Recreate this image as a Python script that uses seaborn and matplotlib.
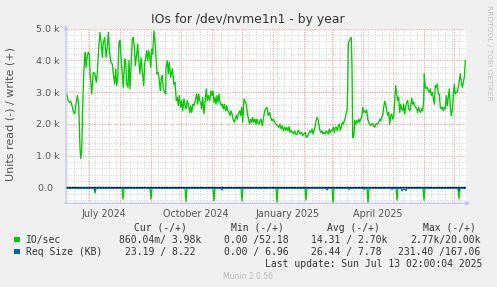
import numpy as np
import pandas as pd
import matplotlib
matplotlib.use("Agg")
import matplotlib.pyplot as plt
import seaborn as sns

# ---------------- data ----------------
start = pd.Timestamp("2024-06-08 02:00")
end = pd.Timestamp("2025-07-13 02:00")

# IO/sec write (+), day offsets from start
write_days = [
    0.7, 2.0, 3.3, 4.7, 6.0, 7.3, 8.7, 10.0, 11.3, 12.7, 13.3, 14.0, 14.7, 15.7, 16.7, 17.7, 18.7, 19.3, 20.0, 20.7,
    21.3, 22.3, 23.3, 24.0, 25.7, 27.3, 29.0, 30.3, 31.3, 32.7, 34.0, 35.3, 36.3, 37.3, 38.7, 40.0, 41.3, 42.3, 43.7, 45.0,
    46.3, 47.3, 48.7, 49.7, 50.7, 51.7, 53.0, 54.0, 55.0, 56.0, 57.3, 58.7, 59.7, 60.7, 62.0, 63.0, 64.0, 65.0, 66.3, 67.3,
    68.3, 69.3, 70.7, 71.7, 72.7, 74.0, 75.0, 76.3, 77.7, 78.7, 79.7, 80.7, 81.7, 82.7, 83.7, 84.7, 85.7, 86.7, 88.0, 89.0,
    90.0, 91.0, 92.0, 93.0, 94.3, 95.3, 96.3, 97.3, 98.7, 99.7,
    100.0, 101.3, 102.3, 103.3, 104.7, 106.3, 108.0, 109.0, 110.3, 111.3, 112.3, 113.3, 114.7, 115.7, 116.7, 118.0, 119.0,
    120.0, 121.3, 122.3, 123.7, 124.7, 125.7, 127.0, 128.0, 129.3, 130.7, 131.7, 132.7, 133.7, 134.7, 135.7, 136.7, 138.0,
    139.0, 140.3, 141.3, 142.3, 143.7, 145.0, 146.0, 147.0, 148.0, 149.0, 150.0, 151.0, 152.0, 153.0, 154.0, 155.3, 156.3,
    157.3, 158.3, 159.7, 160.7, 161.7, 163.0, 164.0, 165.0, 166.0, 167.0, 168.3, 169.3, 170.3, 171.3, 172.3, 173.7, 174.7,
    175.7, 176.7, 178.0, 179.3, 180.3, 181.3, 182.7, 183.7, 184.7, 185.7, 186.7, 187.7, 189.0, 190.0, 191.0, 192.0, 193.0,
    194.0, 195.0, 196.3, 197.3, 198.7, 199.7,
    201.0, 202.3, 203.7, 204.7, 206.0, 207.3, 208.7, 210.0, 211.3, 212.7, 214.0, 215.0, 216.3, 217.3, 218.7, 219.7, 220.7,
    222.0, 223.0, 224.0, 225.3, 226.3, 227.3, 228.7, 229.7, 231.0, 232.3, 233.3, 234.3, 235.7, 236.7, 238.0, 239.3, 240.3,
    241.7, 242.7, 243.7, 245.0, 246.0, 247.0, 248.0, 249.0, 250.0, 251.0, 252.0, 253.0, 254.0, 255.0, 256.0, 257.0, 258.0,
    259.0, 260.3, 261.3, 262.3, 263.3, 264.3, 265.3, 266.3, 267.3, 268.3, 269.3, 270.3, 271.3, 272.3, 273.3, 274.3, 275.3,
    276.3, 277.3, 278.3, 279.3, 280.0, 281.0, 281.7, 282.3, 283.3, 284.3, 285.3, 286.0, 286.7, 287.3, 288.0, 288.7, 289.7,
    290.7, 291.7, 292.7, 293.7, 294.7, 295.7, 296.7, 297.7, 298.7, 299.7,
    300.7, 301.7, 302.7, 303.7, 304.7, 305.7, 306.7, 307.7, 308.7, 309.7, 310.7, 311.7, 312.7, 313.7, 314.7, 315.7, 316.7,
    317.7, 318.7, 319.7, 320.7, 321.7, 322.7, 323.7, 324.7, 325.7, 326.7, 327.7, 328.7, 329.7, 330.7, 331.7, 332.7, 333.7,
    334.7, 335.7, 336.7, 337.7, 338.7, 339.7, 340.7, 341.7, 342.7, 343.7, 344.7, 345.7, 346.7, 347.7, 348.7, 349.7, 350.7,
    351.7, 352.7, 353.7, 354.7, 355.7, 356.7, 357.7, 358.3, 359.3, 360.3, 361.3, 362.3, 363.3, 364.3, 365.3, 366.3, 367.3,
    368.3, 369.3, 370.3, 371.3, 372.3, 373.3, 374.3, 375.3, 376.3, 377.3, 378.3, 379.3, 380.3, 381.3, 382.3, 383.3, 384.3,
    385.3, 386.3, 387.3, 388.3, 389.3, 390.3, 391.3, 392.3, 393.3, 394.3, 395.3, 396.3, 397.3, 398.3, 399.3,
]
write_ios = [
    2940, 2750, 2680, 2710, 2570, 2390, 2310, 2620, 2890, 2620, 1990, 1260, 910, 1150, 2520, 3570, 4090, 4250, 3780, 3990,
    4140, 4250, 4200, 3620, 2940, 3620, 3570, 3310, 3570, 4410, 4880, 4510, 4090, 4560, 4720, 4090, 4410, 4880, 4200, 3930,
    3880, 3570, 3250, 3730, 3200, 3410, 4560, 4620, 4090, 3670, 3150, 4040, 3930, 3250, 3150, 3990, 3100, 3780, 4670, 4720,
    4410, 3830, 4200, 4510, 3990, 3570, 4090, 3670, 3200, 3880, 4090, 4300, 3990, 4300, 4140, 3780, 4350, 4200, 4930, 4620,
    4090, 3570, 3620, 3460, 3040, 3410, 3520, 3100, 2990, 2940,
    3780, 3990, 3570, 3930, 3460, 3730, 3250, 3310, 2730, 2830, 2570, 2890, 2520, 2730, 2410, 2780, 2570,
    2470, 2730, 2620, 2360, 2570, 2360, 2620, 2570, 2730, 2940, 2620, 2940, 2730, 2680, 2470, 2830, 2310,
    2680, 3100, 2730, 2890, 2730, 3040, 2890, 3040, 2680, 2830, 2620, 2890, 2680, 2940, 2680, 2570, 2620,
    2470, 2620, 2410, 2570, 2410, 2360, 2260, 2410, 2310, 2150, 2050, 2150, 2260, 2150, 2310, 2410, 2260,
    2520, 2050, 2780, 2680, 2620, 2360, 2100, 1990, 2150, 2050, 2200, 2050, 2150, 1990, 2150, 2050, 1990,
    2100, 2150, 1940, 2150, 2410, 2470,
    2520, 2260, 2360, 2200, 2100, 2150, 2050, 1990, 1940, 1890, 1990, 1840, 1940, 1780, 1890, 1800, 1890,
    1780, 1910, 1730, 1800, 1730, 1680, 1780, 1680, 1660, 1800, 1730, 1680, 1730, 1630, 1680, 1730, 1570,
    1630, 1680, 1780, 1730, 1840, 1680, 1780, 1890, 2100, 2200, 2150, 1940, 1780, 1730, 1780, 1680, 1730,
    1680, 1780, 1730, 1680, 1840, 1730, 1800, 1780, 1890, 1730, 1890, 1890, 1780, 1940, 1990, 1800, 1890,
    2050, 1990, 2100, 2200, 2310, 2410, 3040, 4510, 4620, 4670, 4720, 3780, 1570, 1570, 1680, 2100, 1990,
    2100, 2050, 2150, 2050, 2150, 2200, 2520, 2360, 2410, 2360,
    2430, 2150, 2050, 1990, 1940, 1990, 2010, 1940, 1890, 1990, 2010, 1990, 2050, 2150, 2100, 2200, 2260,
    2520, 2710, 2620, 2410, 2260, 2360, 1990, 2260, 2310, 2150, 2200, 2730, 3200, 2940, 2730, 2830, 2360,
    2620, 2470, 2410, 2620, 2310, 2520, 2680, 2730, 2470, 2410, 2520, 2810, 2620, 2680, 2570, 2520, 2470,
    2360, 2520, 2410, 2360, 2470, 2410, 2730, 3570, 3150, 3100, 3150, 3040, 2990, 3100, 2890, 2990, 2830,
    2620, 3200, 3150, 3250, 2940, 2940, 2520, 2470, 2520, 2410, 2520, 2470, 2890, 2570, 2830, 3100, 2520,
    2260, 2410, 2890, 3250, 2940, 2990, 2990, 3150, 3360, 3570, 3310, 3150, 3310, 3460, 3990,
]

# IO/sec read (-)
read_days = [0, 28, 29, 30, 56, 57, 58, 84, 85, 86, 119, 120, 121, 147, 148, 149, 175, 176, 177,
             210, 211, 212, 239, 240, 241, 266, 267, 268, 301, 302, 303, 330, 331, 332, 357, 358, 359,
             392, 393, 394, 400]
read_ios = [10, 10, 180, 10, 10, 370, 10, 10, 370, 10, 10, 450, 10, 10, 420, 10, 10, 420, 10,
            10, 480, 10, 10, 390, 10, 10, 490, 10, 10, 490, 10, 10, 400, 10, 10, 400, 10,
            10, 360, 10, 10]

# Req Size (KB)
req_read_days = [0, 28, 29, 30, 155, 156, 157, 260, 261, 262, 282, 283, 284, 297, 298, 299,
                 325, 326, 327, 335, 336, 338, 340, 341, 392, 393, 394, 400]
req_read_kb = [24, 24, 90, 24, 24, 80, 24, 24, 80, 24, 24, 60, 24, 24, 60, 24,
               24, 60, 24, 24, 100, 40, 100, 24, 24, 110, 24, 23]
req_write_days = [0, 400]
req_write_kb = [8, 8]

ytick_vals = [0, 1000, 2000, 3000, 4000, 5000]
ytick_labels = ["0.0  ", "1.0 k", "2.0 k", "3.0 k", "4.0 k", "5.0 k"]
xtick_dates = ["2024-07-16", "2024-10-16", "2025-01-16", "2025-04-16"]
xtick_labels = ["July 2024", "October 2024", "January 2025", "April 2025"]

legend_header = ["Cur (-/+)", "Min (-/+)", "Avg (-/+)", "Max (-/+)"]
legend_names = ["IO/sec", "Req Size (KB)"]
legend_rows = [["860.04m/ 3.98k", "0.00 /52.18", "14.31 / 2.70k", "2.77k/20.00k"],
               ["23.19 / 8.22", "0.00 / 6.96", "26.44 / 7.78", "231.40 /167.06"]]
legend_colors = ["#00CC00", "#0066B3"]
last_update = "Last update: Sun Jul 13 02:00:04 2025"

# ---------------- figure ----------------
W, H = 497, 287
sns.set_theme(style="white")
plt.rcParams["font.family"] = ["DejaVu Sans"]

fig = plt.figure(figsize=(W / 100, H / 100), dpi=100, facecolor="#F0F0F0")
L, R, T, B = 66, 466, 28.5, 203.3
ax = fig.add_axes([L / W, 1 - B / H, (R - L) / W, (B - T) / H])
ax.set_facecolor("white")

ymin, ymax = -500, 5000
ax.set_xlim(start, end)
ax.set_ylim(ymin, ymax)

# grid
red = "#F0A8A8"
gray = "#D8D8D8"
week_lines = pd.date_range(start, end, freq="W-SUN")
month_lines = pd.date_range("2024-06-01", end, freq="MS")
month_lines = month_lines[month_lines > start]
ax.vlines(week_lines, ymin, ymax, colors=gray, lw=0.7, linestyles=(0, (1.2, 1.2)), zorder=1)
ax.hlines(np.arange(-400, 5000, 200), start, end, colors=gray, lw=0.7, linestyles=(0, (1.2, 1.2)), zorder=1)
ax.vlines(month_lines, ymin, ymax, colors=red, lw=0.7, linestyles=(0, (1.2, 1.2)), zorder=2)
ax.hlines(np.arange(1000, 5001, 1000), start, end, colors=red, lw=0.7, linestyles=(0, (1.2, 1.2)), zorder=2)

def to_dates(days):
    return start + pd.to_timedelta(np.asarray(days, dtype=float), unit="D")

df_w = pd.DataFrame({"date": to_dates(write_days), "v": write_ios})
df_r = pd.DataFrame({"date": to_dates(read_days), "v": -np.asarray(read_ios)})
df_qr = pd.DataFrame({"date": to_dates(req_read_days), "v": -np.asarray(req_read_kb)})
df_qw = pd.DataFrame({"date": to_dates(req_write_days), "v": req_write_kb})

sns.lineplot(data=df_r, x="date", y="v", color=legend_colors[0], lw=0.95, ax=ax, estimator=None, zorder=3)
sns.lineplot(data=df_w, x="date", y="v", color=legend_colors[0], lw=0.95, ax=ax, estimator=None, zorder=3)
sns.lineplot(data=df_qr, x="date", y="v", color=legend_colors[1], lw=0.95, ax=ax, estimator=None, zorder=4)
sns.lineplot(data=df_qw, x="date", y="v", color=legend_colors[1], lw=0.95, ax=ax, estimator=None, zorder=4)
ax.axhline(0, color="black", lw=0.8, ls=(0, (1.5, 1)), zorder=5)

ax.set_xlabel("")
ax.set_ylabel("")
for s in ax.spines.values():
    s.set_visible(False)

ax.set_yticks(ytick_vals)
ax.set_yticklabels(ytick_labels)
ax.set_xticks(pd.to_datetime(xtick_dates))
ax.set_xticklabels(xtick_labels)
ax.tick_params(axis="y", length=0, pad=4.8, labelsize=6.8, labelcolor="#555555")
ax.tick_params(axis="x", length=0, pad=4.0, labelsize=6.9, labelcolor="#555555")

# axis lines with arrows
axis_col = "#C4C8F0"
ax.annotate("", xy=(1.018, 0), xytext=(-0.01, 0), xycoords="axes fraction",
            arrowprops=dict(arrowstyle="-|>", color=axis_col, lw=1.0, mutation_scale=6),
            annotation_clip=False, zorder=6)
ax.annotate("", xy=(0, 1.037), xytext=(0, -0.015), xycoords="axes fraction",
            arrowprops=dict(arrowstyle="-|>", color=axis_col, lw=1.0, mutation_scale=6),
            annotation_clip=False, zorder=6)

# texts
def px(x, y):
    return x / W, 1 - y / H

fig.text(*px(248, 23.5), "IOs for /dev/nvme1n1 - by year", ha="center", va="baseline",
         fontsize=8.9, color="#333333")
fig.text(*px(11, 114.5), "Units read (-) / write (+)", rotation=90, ha="center", va="center",
         fontsize=8.0, color="#555555")
fig.text(*px(488.5, 53), "RRDTOOL / TOBI OETIKER", rotation=270, ha="center", va="center",
         fontsize=5.4, color="#C4C4C4")

mono = dict(family="DejaVu Sans Mono", fontsize=7.05, color="#333333", va="baseline")
for x, s in zip([134.3, 230.7, 326.7, 422.7], legend_header):
    fig.text(*px(x, 231), s, ha="left", **mono)
col_x = [[119, 224, 311, 410], [125, 224, 311, 398]]
for i, (name, row) in enumerate(zip(legend_names, legend_rows)):
    base = 243 + 12 * i
    fig.patches.append(plt.Rectangle(px(14, base - 1), 5.5 / W, 5.5 / H, transform=fig.transFigure,
                                     facecolor=legend_colors[i], edgecolor="none"))
    fig.text(*px(26, base), name, ha="left", **mono)
    for x, s in zip(col_x[i], row):
        fig.text(*px(x, base), s, ha="left", **mono)
fig.text(*px(482.7, 267), last_update, ha="right", **mono)
fig.text(*px(248, 279), "Munin 2.0.56", ha="center", va="baseline", fontsize=5.5, color="#BBBBBB")

fig.savefig("out.png", dpi=100, facecolor=fig.get_facecolor())
